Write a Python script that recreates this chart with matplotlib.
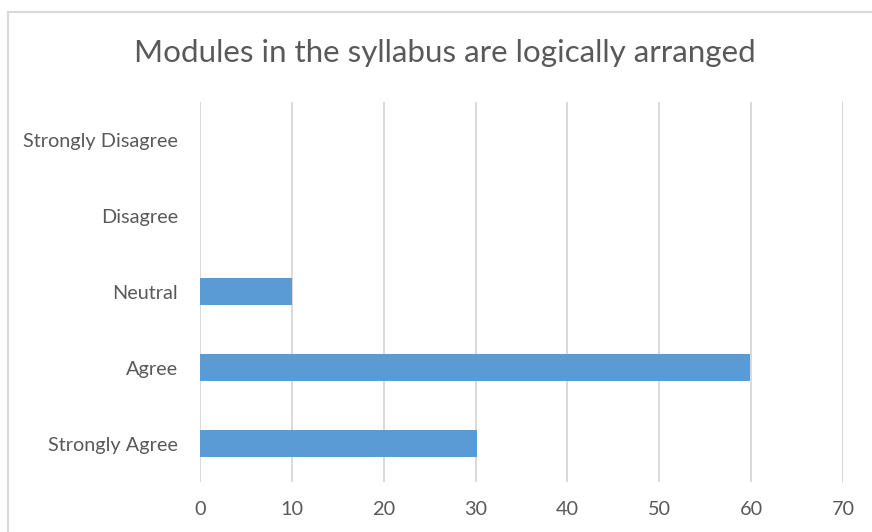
import matplotlib
matplotlib.use("Agg")
import matplotlib.pyplot as plt
from matplotlib.lines import Line2D

# responses, bottom to top as drawn
categories = ['Strongly Agree', 'Agree', 'Neutral', 'Disagree', 'Strongly Disagree']
percent = [30.2, 59.8, 10.0, 0, 0]
x_ticks = [0, 10, 20, 30, 40, 50, 60, 70]

W, H = 872, 532
plt.rcParams['font.family'] = ['Lato', 'DejaVu Sans']

fig = plt.figure(figsize=(W / 100, H / 100), dpi=100)
ax = fig.add_axes([199.7 / W, 1 - 481.7 / H, (843.3 - 199.7) / W, (481.7 - 101.7) / H])

ax.barh(range(len(categories)), percent, height=0.35, color='#5b9bd5', zorder=3)

ax.set_xlim(0, 70)
ax.set_ylim(-0.5, len(categories) - 0.5)
ax.set_xticks(x_ticks)
ax.set_yticks(range(len(categories)))
ax.set_yticklabels(categories)
ax.xaxis.grid(True, color='#d9d9d9', linewidth=1.4, zorder=0)
for s in ax.spines.values():
    s.set_visible(False)
ax.tick_params(length=0, labelsize=14.3, colors='#595959')
ax.tick_params(axis='x', pad=14)
ax.tick_params(axis='y', pad=15.5)

fig.text(445 / W, 1 - 53 / H, 'Modules in the syllabus are logically arranged',
         ha='center', va='center', fontsize=22.6, color='#595959')

# chart area border (only top and left visible in the crop)
fig.add_artist(Line2D([8 / W, 8 / W], [0, 1 - 12 / H], transform=fig.transFigure,
                      color='#d9d9d9', linewidth=1.5))
fig.add_artist(Line2D([8 / W, 1], [1 - 12 / H, 1 - 12 / H], transform=fig.transFigure,
                      color='#d9d9d9', linewidth=1.5))

fig.savefig('out.png', dpi=100, facecolor='white')
